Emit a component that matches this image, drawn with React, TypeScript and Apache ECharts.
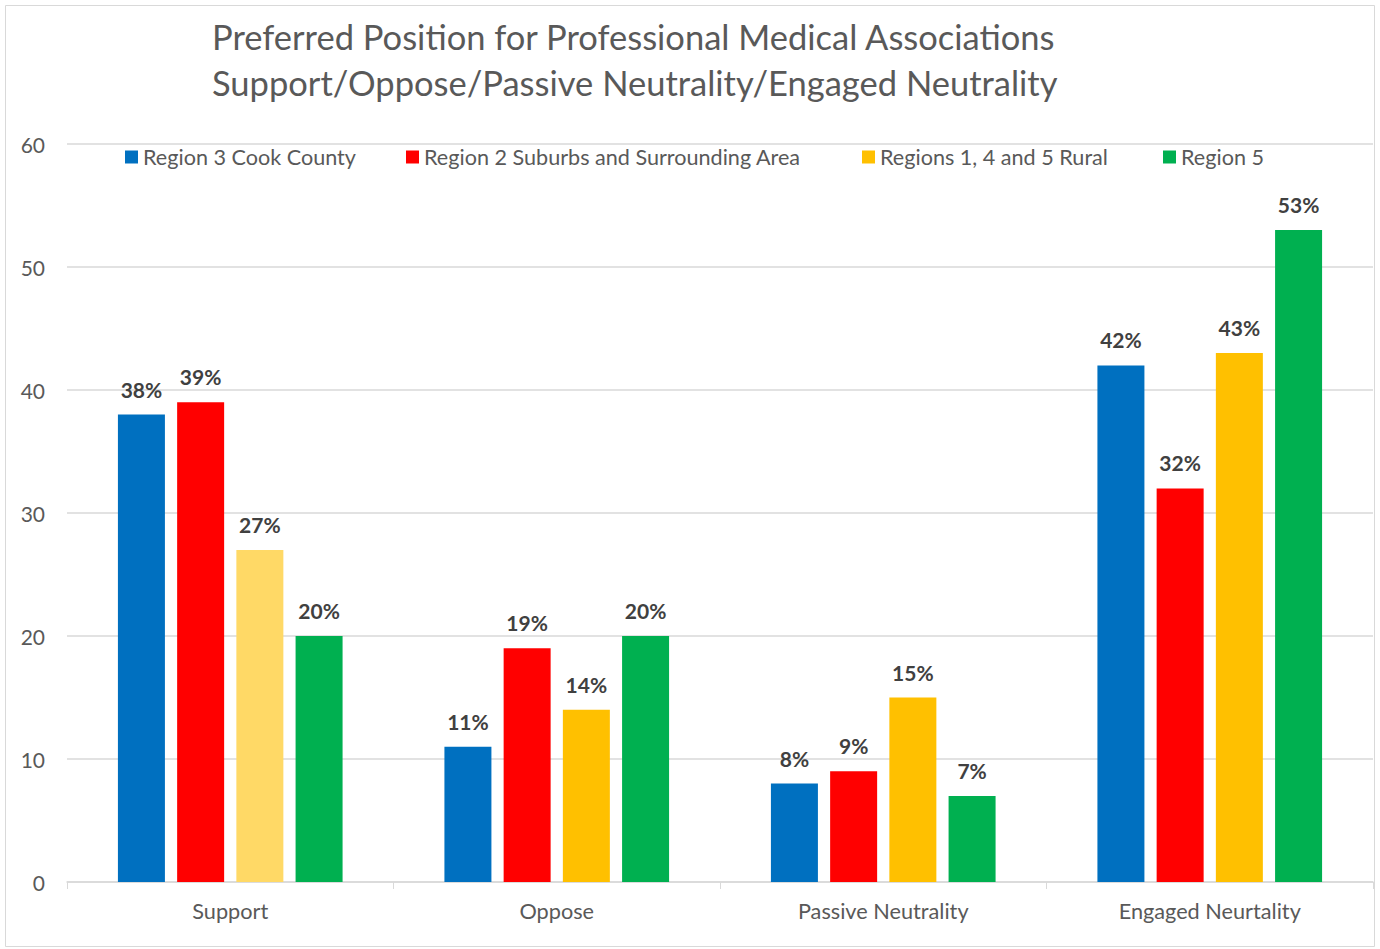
import React, { useEffect, useRef } from "react";
import * as echarts from "echarts";

const categories = ["Support", "Oppose", "Passive Neutrality", "Engaged Neurtality"];
const seriesNames = [
  "Region 3 Cook County",
  "Region 2 Suburbs and Surrounding Area",
  "Regions 1, 4 and 5 Rural",
  "Region 5",
];
const cookCounty = [38, 11, 8, 42];
const suburbs = [39, 19, 9, 32];
const rural = [27, 14, 15, 43];
const region5 = [20, 20, 7, 53];
const seriesColors = ["#0070C0", "#FF0000", "#FFC000", "#00B050"];
const yTicks = { min: 0, max: 60, interval: 10 };
const titleLines = [
  "Preferred Position for Professional Medical Associations",
  "Support/Oppose/Passive Neutrality/Engaged Neutrality",
];
const FONT = "Lato, 'Open Sans', sans-serif";

export default function App() {
  const ref = useRef<HTMLDivElement>(null);
  useEffect(() => {
    if (!ref.current) return;
    const chart = echarts.init(ref.current, null, { renderer: "svg" });
    const values = [cookCounty, suburbs, rural, region5];
    const legendLefts = [120, 401, 857, 1158];
    const series = seriesNames.map((name, i) => ({
      name,
      type: "bar",
      barWidth: 47,
      barGap: "26%",
      itemStyle: { color: seriesColors[i] },
      data: values[i].map((v, j) =>
        i === 2 && j === 0 ? { value: v, itemStyle: { color: "#FFD966" } } : v
      ),
      label: {
        show: true,
        position: "top",
        distance: 15,
        formatter: "{c}%",
        fontFamily: FONT,
        fontWeight: "bold",
        fontSize: 21,
        color: "#404040",
      },
    }));
    chart.setOption({
      animation: false,
      backgroundColor: "#ffffff",
      textStyle: { fontFamily: FONT },
      title: {
        text: titleLines.join("\n"),
        left: 207,
        top: 8,
        textStyle: {
          fontFamily: FONT,
          fontSize: 34.5,
          fontWeight: "normal",
          color: "#595959",
          lineHeight: 46,
        },
      },
      legend: seriesNames.map((name, i) => ({
        data: [name],
        left: legendLefts[i],
        top: 141,
        itemWidth: 13,
        itemHeight: 13,
        icon: "rect",
        itemGap: 5,
        textStyle: { fontFamily: FONT, fontSize: 21.6, color: "#595959" },
      })),
      grid: { left: 67, right: 7, top: 144, bottom: 67, containLabel: false },
      xAxis: {
        type: "category",
        data: categories,
        axisLine: { lineStyle: { color: "#D9D9D9", width: 1.5 } },
        axisTick: { show: true, length: 7, lineStyle: { color: "#D9D9D9" } },
        axisLabel: { fontFamily: FONT, fontSize: 21.7, color: "#595959", margin: 18 },
      },
      yAxis: {
        type: "value",
        min: yTicks.min,
        max: yTicks.max,
        interval: yTicks.interval,
        axisLine: { show: false },
        axisTick: { show: false },
        splitLine: { lineStyle: { color: "#D9D9D9", width: 1.5 } },
        axisLabel: { fontFamily: FONT, fontSize: 21, color: "#595959", margin: 22 },
      },
      graphic: [
        {
          type: "rect",
          shape: { x: 5.5, y: 5.5, width: 1369, height: 941 },
          style: { fill: "none", stroke: "#D9D9D9", lineWidth: 1 },
          z: 100,
        },
      ],
      series,
    });
    return () => chart.dispose();
  }, []);
  return (
    <div
      ref={ref}
      style={{ position: "absolute", left: 0, top: 0, width: 1380, height: 949 }}
    />
  );
}
